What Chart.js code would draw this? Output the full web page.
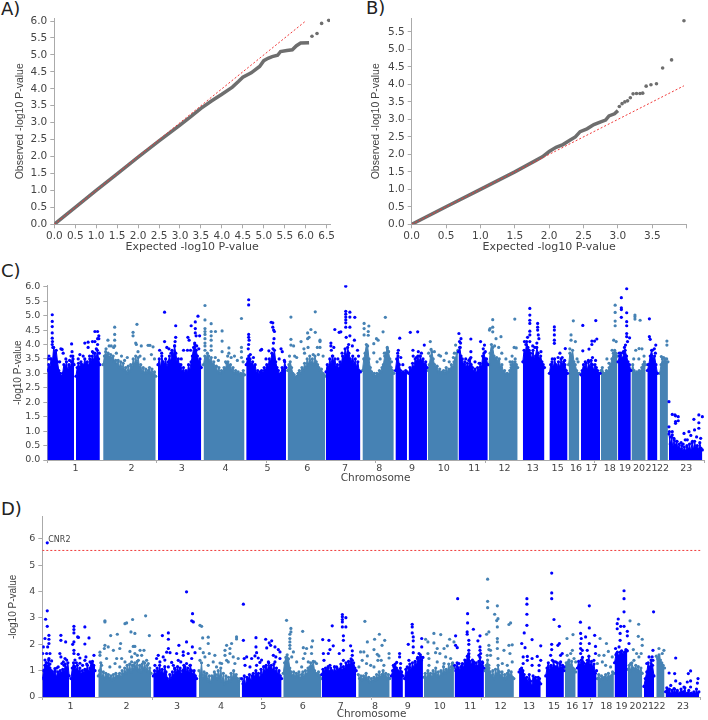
<!DOCTYPE html>
<html>
<head>
<meta charset="utf-8">
<title>QQ and Manhattan plots</title>
<script src="https://cdn.jsdelivr.net/npm/chart.js@4"></script>
<style>
    body { margin: 0; background: #fff; }
    canvas { position: absolute; }
    .letter { position: absolute; font: 18px "DejaVu Sans", sans-serif; color: #222; }
</style>
</head>
<body>
<div class="letter" style="left:1px;top:-2px">A)</div>
<div class="letter" style="left:366px;top:-3px">B)</div>
<div class="letter" style="left:1px;top:260px">C)</div>
<div class="letter" style="left:1px;top:498px">D)</div>
<canvas id="qq-a" width="354" height="260" style="left:0;top:0"></canvas>
<canvas id="qq-b" width="354" height="260" style="left:354px;top:0"></canvas>
<canvas id="man-c" width="708" height="230" style="left:0;top:260px"></canvas>
<canvas id="man-d" width="708" height="230" style="left:0;top:490px"></canvas>
<script>
// QQ plot A: [expected, observed]
const qqCurveA = [[0,0],[0.5,0.5],[1,1],[1.5,1.49],[2,1.98],[2.5,2.46],[3,2.93],[3.25,3.17],[3.5,3.42],[3.75,3.64],[4,3.84],[4.25,4.05],[4.4,4.22],[4.5,4.34],[4.7,4.47],[4.9,4.66],[5,4.83],[5.1,4.9],[5.2,4.95],[5.33,4.99],[5.4,5.1],[5.55,5.13],[5.68,5.15],[5.78,5.27],[5.88,5.35],[6.08,5.36]];
const qqLooseA = [[6.15,5.55],[6.27,5.63],[6.38,5.93],[6.55,6.02]];
const qqNullA = [[0,0],[6,6]];

// QQ plot B: [expected, observed]
const qqCurveB = [[0,0],[0.5,0.5],[1,1],[1.5,1.5],[1.8,1.82],[1.9,1.93],[2,2.08],[2.1,2.2],[2.2,2.28],[2.3,2.4],[2.38,2.5],[2.45,2.65],[2.55,2.73],[2.65,2.85],[2.75,2.93],[2.82,2.98],[2.87,3.1],[2.95,3.16],[3,3.25]];
const qqLooseB = [[3.02,3.37],[3.06,3.45],[3.1,3.5],[3.14,3.53],[3.18,3.62],[3.22,3.73],[3.27,3.74],[3.32,3.74],[3.36,3.75],[3.41,3.95],[3.48,3.99],[3.56,4.02],[3.65,4.47],[3.78,4.7],[3.96,5.82]];
const qqNullB = [[0,0],[3.96,3.96]];

// chromosome labels and their centres along the genome (Mb)
const chromLabels = ['1','2','3','4','5','6','7','8','9','10','11','12','13','15','16','17','18','19','20','21','22','23'];
const chromCentres = [137,408,652,865,1069,1261,1444,1610,1769,1923,2071,2218,2355,2476,2565,2640,2729,2803,2871,2931,2987,3100];

// panel C: top of the packed points per chromosome arm, [start Mb, end Mb, -log10 P read left to right]
const cBlueTops = [
    [0,130,[3.1,3.3,3.2,3.5,3.4,3.9,3.7,3.8,3.4,3.1,3.0,2.9,3.0,3.3,3.2,3.4,3.1,3.3,3.2,3.4,3.6,3.3]],
    [139,255,[2.9,3.2,3.35,3.2,3.4,3.3,3.25,3.5,3.3,3.4,3.25,3.5,3.4,3.6,3.45,3.7,3.5,3.8,3.5,3.3]],
    [537,747,[3.3,3.5,3.2,3.6,3.4,3.3,3.5,3.2,3.4,3.6,3.4,3.8,3.6,3.95,3.7,3.4,3.5,3.2,3.3,3.05,3.2,3.0,3.1,3.0,3.3,3.1,3.4,3.6,3.9,4.0,3.8,3.6,3.4,3.5,3.2]],
    [965,1158,[3.3,3.5,3.6,3.5,3.3,3.4,3.2,3.3,3.0,3.1,2.95,3.05,3.1,3.0,3.2,3.1,3.3,3.2,3.5,3.4,3.7,3.6,3.8,3.4,3.2,3.1,2.95,3.0,3.2,3.1,3.4,3.2]],
    [1352,1519,[3.05,3.3,3.2,3.5,3.3,3.6,3.4,3.5,3.2,3.3,3.15,3.4,3.3,3.6,3.5,3.85,3.6,3.9,3.7,3.5,3.4,3.6,3.3,3.5,3.2,3.4,3.1,3.05]],
    [1689,1745,[3.1,3.5,3.6,3.3,3.1,3.0,3.05,3.0,3.1,3.05]],
    [1753,1842,[3.0,3.2,3.1,3.35,3.2,3.5,3.4,3.6,3.4,3.6,3.4,3.5,3.3,3.4,3.2]],
    [1995,2137,[3.75,3.9,3.6,3.5,3.3,3.4,3.2,3.35,3.2,3.5,3.3,3.2,3.05,3.15,3.0,3.2,3.1,3.35,3.2,3.6,3.7,3.5,3.5,3.3]],
    [2307,2412,[3.4,3.8,3.7,4.1,3.9,3.8,3.7,3.5,3.8,3.5,3.6,3.9,3.7,3.5,3.6,3.4,3.3,3.2]],
    [2436,2524,[3.0,3.3,3.4,3.2,3.5,3.3,3.2,3.4,3.2,3.5,3.3,3.4,3.3,3.1,3.0]],
    [2589,2682,[2.95,3.1,3.3,3.2,3.35,3.1,3.4,3.2,3.45,3.3,3.1,3.3,3.2,3.1,3.0,3.0]],
    [2769,2831,[3.4,3.6,3.7,3.5,3.7,3.8,3.6,3.4,3.3,3.1]],
    [2911,2960,[3.1,3.3,3.6,3.8,3.5,3.6,3.3,3.0]],
    [3016,3178,[0.9,0.55,0.8,0.45,0.7,0.5,0.65,0.4,0.55,0.35,0.5,0.3,0.45,0.3,0.5,0.35,0.55,0.3,0.6,0.35,0.65,0.4,0.5,0.35,0.6,0.4,0.35]]
];
const cSteelTops = [
    [271,526,[3.3,3.6,3.75,3.6,3.7,3.55,3.65,3.5,3.6,3.4,3.45,3.3,3.45,3.2,3.4,3.15,3.35,3.1,3.2,3.0,3.25,3.05,3.3,3.2,3.5,3.3,3.6,3.35,3.55,3.2,3.3,3.05,3.2,3.0,3.15,3.0,3.1,3.2,3.0,3.15,2.95,3.05,2.9]],
    [758,957,[3.3,3.6,3.5,3.7,3.6,3.4,3.55,3.3,3.4,3.2,3.25,3.05,3.2,3.0,3.1,3.05,3.2,3.15,3.35,3.4,3.25,3.3,3.1,3.2,3.0,3.1,3.0,3.05,2.95,3.0,2.95,3.1,2.95]],
    [1166,1349,[3.1,3.3,3.4,3.2,3.0,2.95,2.85,2.9,3.0,3.1,3.0,3.2,3.1,3.35,3.2,3.5,3.3,3.6,3.35,3.5,3.3,3.6,3.4,3.3,3.2,3.1,3.15,3.0,2.95,2.9]],
    [1529,1681,[3.1,3.5,3.7,4.0,3.95,3.5,3.2,3.05,2.95,3.0,2.9,3.0,2.95,3.1,3.05,3.2,3.3,3.6,3.7,3.9,3.75,3.5,3.2,3.1,3.0]],
    [1847,1992,[3.1,3.3,3.6,3.75,3.5,3.3,3.2,3.25,3.05,3.15,3.0,3.05,3.1,3.0,3.2,3.05,3.15,3.1,3.3,3.2,3.4,3.5,3.7,3.8]],
    [2142,2282,[3.3,3.7,4.0,3.9,3.6,3.5,3.55,3.4,3.5,3.2,3.3,3.05,3.1,2.95,3.0,2.95,3.1,3.2,3.4,3.3,3.4,3.3,3.2]],
    [2529,2581,[3.3,3.7,3.6,3.8,3.4,3.3,3.1,3.0,3.0]],
    [2686,2766,[3.1,3.2,3.0,3.0,3.1,3.05,3.2,3.3,3.5,3.7,3.8,3.7,3.6]],
    [2834,2903,[3.1,3.3,3.1,3.0,3.05,3.0,3.1,3.05,3.2,3.3,3.4,3.3]],
    [2971,3011,[3.0,3.3,3.5,3.4,3.5,3.4,3.4]]
];
// panel C: separate hits above the packed points
const cBlueHits = [
    [24,5.03],[24,4.8],[24,4.62],[24,4.4],[24,4.22],[25,4.1],[24,4.0],[27,3.9],[8,3.6],[3,3.5],[15,3.5],[118,4.02],[120,3.75],[115,3.6],[66,3.85],[72,3.83],[77,3.7],[60,3.4],[90,3.5],[108,3.45],[125,3.5],[45,3.4],
    [182,4.05],[198,4.08],[198,3.9],[219,4.1],[219,3.75],[231,4.45],[231,4.1],[244,4.45],[244,4.2],[244,4.0],[250,4.3],[250,4.2],[238,3.85],[158,3.65],[174,3.6],[205,3.6],[225,3.7],[150,3.5],[252,3.7],
    [569,5.12],[569,4.1],[545,3.8],[555,3.7],[580,3.9],[590,3.85],[600,3.7],[623,4.65],[623,4.25],[620,4.1],[618,3.95],[661,3.8],[650,3.5],[640,3.3],[682,4.25],[688,4.15],[698,4.65],[718,4.78],[718,4.55],[718,4.4],[722,4.3],[731,4.98],[739,4.3],[715,4.05],[725,3.95],[695,3.8],[705,3.6],[680,3.8],[735,3.85],
    [977,5.55],[977,5.37],[977,4.35],[977,4.25],[979,4.15],[977,4.0],[975,3.85],[985,3.65],[1000,3.55],[1040,3.83],[1035,3.8],[1061,3.5],[1075,3.78],[1086,4.77],[1094,4.75],[1094,4.6],[1098,4.5],[1102,4.45],[1100,4.2],[1097,4.05],[1095,3.85],[1134,3.85],[1140,3.75],[1125,3.5],[1150,3.45],
    [1395,4.52],[1376,4.05],[1376,3.95],[1378,3.8],[1390,3.9],[1385,3.6],[1416,4.42],[1424,4.44],[1448,6.02],[1448,5.15],[1448,5.05],[1448,4.95],[1448,4.85],[1448,4.75],[1448,4.6],[1450,4.25],[1468,5.12],[1468,4.95],[1468,4.6],[1468,4.3],[1492,4.94],[1490,4.15],[1462,4.0],[1480,3.95],[1510,3.6],[1505,3.8],[1430,3.7],[1410,3.5],
    [1710,4.22],[1703,3.8],[1700,3.7],[1715,3.55],[1725,3.3],[1761,4.42],[1797,4.44],[1829,3.98],[1774,3.8],[1775,3.6],[1800,3.75],[1805,3.6],[1815,3.7],[1790,3.55],
    [1997,4.38],[2007,4.2],[2005,4.05],[2003,3.9],[2000,4.1],[2055,4.19],[2055,3.75],[2055,3.55],[2075,3.4],[2102,4.1],[2121,3.98],[2115,3.85],[2125,3.75],[2095,3.35],[2030,3.5],[2045,3.45],
    [2341,5.25],[2341,5.02],[2341,4.84],[2341,4.73],[2341,4.46],[2341,4.33],[2330,4.25],[2341,4.1],[2379,4.73],[2379,4.6],[2379,4.5],[2382,4.33],[2385,4.2],[2375,4.05],[2315,4.1],[2322,4.0],[2355,3.95],[2365,3.9],[2395,3.75],
    [2460,4.61],[2460,4.5],[2460,4.33],[2460,4.15],[2460,4.04],[2513,3.86],[2487,3.7],[2478,3.55],[2498,3.55],[2510,3.45],[2450,3.5],
    [2598,4.66],[2598,3.78],[2661,4.83],[2642,4.12],[2642,4.0],[2655,4.12],[2666,4.19],[2628,3.84],[2645,3.55],[2625,3.45],[2660,3.45],[2610,3.4],
    [2811,5.93],[2811,5.1],[2811,4.79],[2811,4.65],[2811,4.38],[2811,4.27],[2785,5.62],[2785,5.27],[2785,5.21],[2785,4.94],[2825,4.23],[2805,3.98],[2815,4.1],[2800,3.9],[2775,3.7],[2795,3.75],
    [2921,4.89],[2921,4.27],[2925,4.18],[2952,3.98],[2945,3.85],[2935,3.8],[2950,3.7],[2915,3.3],
    [3016,2.02],[3016,1.15],[3018,0.98],[3032,1.58],[3045,1.56],[3032,0.98],[3032,0.87],[3048,1.53],[3048,1.33],[3048,1.27],[3061,1.5],[3061,1.36],[3025,0.8],[3040,0.75],[3055,0.65],[3075,0.6],[3089,0.92],[3095,0.7],[3113,0.98],[3105,0.7],[3122,0.85],[3137,1.41],[3140,1.04],[3161,1.56],[3161,1.29],[3161,1.1],[3150,0.8],[3170,0.75],[3130,0.65],[3085,0.55],[3178,1.5]
];
const cSteelHits = [
    [294,4.15],[285,3.85],[300,3.95],[310,3.95],[322,3.9],[327,4.6],[327,4.35],[327,4.15],[327,3.95],[335,3.7],[360,3.6],[375,3.45],[388,3.55],[416,4.42],[416,4.3],[435,4.7],[429,4.05],[432,4.0],[440,3.75],[456,3.95],[450,3.6],[470,3.5],[489,3.97],[498,3.97],[513,3.92],[505,3.65],[520,3.5],
    [765,5.35],[765,4.85],[765,4.55],[765,4.45],[765,4.35],[765,4.2],[765,4.05],[765,3.95],[765,3.8],[795,4.72],[795,4.45],[795,4.3],[795,4.15],[795,3.95],[795,3.8],[816,4.45],[848,4.47],[848,4.12],[848,3.75],[815,3.55],[830,3.45],[865,3.4],[881,3.88],[881,3.7],[875,3.6],[892,3.55],[908,3.6],[922,3.45],[942,4.9],[942,3.9],[942,3.75],[942,3.55],[950,3.4],
    [1182,4.95],[1182,4.18],[1182,3.98],[1195,3.95],[1200,3.6],[1175,3.6],[1210,3.55],[1231,4.1],[1245,3.85],[1248,3.7],[1263,4.4],[1270,4.25],[1263,4.2],[1279,4.52],[1265,3.9],[1300,5.13],[1300,4.42],[1290,3.65],[1310,3.9],[1323,4.15],[1323,4.1],[1323,3.9],[1338,3.6],[1315,3.65],
    [1537,4.73],[1560,4.64],[1537,4.55],[1537,4.33],[1557,4.45],[1557,4.32],[1640,4.94],[1629,4.44],[1597,4.2],[1605,4.15],[1584,4.03],[1584,3.71],[1615,3.5],[1650,3.85],[1655,3.75],[1635,3.7],[1670,3.4],[1600,3.4],
    [1858,4.1],[1862,3.83],[1850,3.7],[1878,3.75],[1900,3.63],[1908,3.6],[1936,3.7],[1950,3.4],[1925,3.45],[1970,3.55],[1981,3.98],[1975,3.7],
    [2161,4.86],[2145,4.5],[2148,4.55],[2161,4.6],[2161,4.44],[2177,4.2],[2201,4.27],[2190,3.9],[2170,3.95],[2205,3.7],[2225,3.5],[2268,4.88],[2265,3.9],[2275,3.88],[2245,3.4],[2255,3.6],[2250,3.3],[2270,3.5],
    [2552,4.82],[2541,4.33],[2541,4.15],[2562,4.1],[2570,3.5],[2575,3.4],[2535,3.85],
    [2755,5.36],[2755,5.11],[2755,4.81],[2755,4.65],[2748,4.15],[2760,4.1],[2740,3.8],[2715,3.5],[2725,3.35],
    [2851,5.02],[2851,4.96],[2851,4.88],[2876,4.84],[2871,3.86],[2855,3.8],[2885,3.85],[2845,3.5],[2870,3.5],[2895,3.6],
    [3006,4.12],[3006,3.98],[2979,3.58],[2990,3.55],[3005,3.5]
];

// panel D: top of the packed points, same layout as panel C
const dBlueTops = [
    [0,130,[0.7,1.0,1.2,1.3,1.15,1.4,1.1,1.0,0.95,0.85,1.0,0.75,0.95,0.85,1.0,0.9,1.05,0.95,1.25,1.1,1.3,0.8]],
    [139,255,[0.7,1.1,1.3,1.15,1.0,1.2,0.95,1.1,0.85,1.0,0.9,1.05,1.0,1.2,0.95,1.1,1.3,1.35,1.2,1.0]],
    [537,747,[0.8,1.0,0.85,1.1,0.95,1.2,0.9,1.05,0.85,1.15,0.95,0.7,0.6,0.85,0.65,0.95,0.8,1.05,0.9,1.15,0.95,1.1,0.85,1.0,1.2,1.05,0.95,1.1,0.9,1.2,1.0,0.85,1.0,0.8,0.7]],
    [965,1158,[0.7,0.5,0.8,0.45,0.75,0.65,0.85,0.6,0.8,0.9,0.75,1.0,0.85,0.9,0.7,1.05,0.8,1.15,0.95,1.2,1.0,1.3,1.1,1.2,1.0,1.25,0.95,1.1,0.85,1.0,0.8,0.7]],
    [1352,1519,[0.85,1.05,0.95,1.1,1.0,1.15,0.95,1.1,1.0,0.9,1.15,0.95,1.1,1.0,1.05,1.25,1.0,1.15,1.05,1.3,1.1,1.35,1.2,1.45,1.25,1.3,1.1,1.0]],
    [1689,1745,[0.8,1.0,1.15,1.25,1.1,1.0,0.9,1.1,0.95,0.8]],
    [1753,1842,[0.7,1.05,0.9,1.1,1.25,1.0,1.3,1.1,1.35,1.2,1.5,1.35,1.6,1.4,1.5]],
    [1995,2137,[1.2,1.0,1.3,1.1,1.0,1.15,1.25,1.1,1.4,1.3,1.55,1.6,1.35,1.2,1.4,1.25,1.15,1.3,1.15,1.35,1.5,1.2,1.3,1.1]],
    [2307,2412,[0.95,1.05,1.1,1.0,0.85,0.7,0.75,0.55,0.85,0.6,0.4,0.8,0.7,0.75,0.6,0.75,0.7,0.5]],
    [2436,2524,[0.8,1.1,1.3,1.0,1.2,1.05,1.35,1.15,1.1,1.3,1.05,1.25,1.1,1.2,1.0]],
    [2589,2682,[1.1,1.35,1.2,1.4,1.5,1.3,1.15,1.25,1.3,1.55,1.2,1.35,1.1,1.25,0.9,1.0]],
    [2769,2831,[1.3,1.6,1.7,1.55,1.7,1.75,1.6,1.7,1.8,1.75]],
    [2911,2960,[0.4,0.7,0.95,1.3,1.1,1.4,1.2,0.8]],
    [3016,3178,[0.2,0.35,0.15,0.3,0.1,0.25,0.15,0.3,0.12,0.2,0.1,0.15,0.3,0.1,0.2,0.35,0.1,0.15,0.25,0.08,0.15,0.1,0.2,0.08,0.3,0.12,0.2]]
];
const dSteelTops = [
    [271,526,[0.8,1.0,1.3,0.75,0.95,0.7,0.9,0.75,0.85,0.7,0.8,0.65,0.85,0.7,0.9,0.75,0.8,0.9,0.75,1.0,0.85,1.1,0.9,1.2,1.0,1.25,0.95,1.2,1.05,1.3,1.1,1.35,1.0,1.2,0.95,1.25,1.05,1.3,1.0,1.2,0.95,1.1,0.9]],
    [758,957,[1.0,0.8,1.3,0.7,0.95,0.8,0.9,0.6,0.8,0.55,0.8,0.7,0.95,0.85,0.7,1.0,0.75,1.1,0.6,0.9,0.5,0.8,0.55,0.75,0.6,0.9,0.7,1.0,0.75,0.85,0.7,0.6,0.7]],
    [1166,1349,[0.9,1.3,1.5,1.6,1.45,1.1,0.95,0.8,0.95,0.75,0.9,0.8,0.95,0.7,0.85,0.95,0.75,1.0,0.85,1.1,1.0,1.3,1.15,1.35,1.0,0.9,0.85,0.95,0.8,0.7]],
    [1529,1681,[0.85,0.7,0.8,0.65,0.8,0.7,0.9,0.65,0.75,0.55,0.7,0.6,0.75,0.65,0.85,0.7,0.95,0.75,0.85,1.0,0.8,0.9,0.7,0.85,0.7]],
    [1847,1992,[0.75,0.9,0.7,1.0,0.8,0.9,0.75,1.0,0.85,1.1,0.8,0.95,0.75,1.0,0.85,1.15,0.9,1.05,0.95,1.25,1.0,1.15,1.3,1.1]],
    [2142,2282,[1.0,1.2,1.4,1.1,0.95,0.8,1.0,0.7,1.05,0.85,1.2,0.95,0.8,0.95,0.7,0.85,0.7,0.9,1.0,0.8,0.95,0.75,0.7]],
    [2529,2581,[1.1,1.3,1.25,1.4,1.2,1.35,1.1,1.05,0.95]],
    [2686,2766,[0.7,0.85,0.65,0.8,0.7,0.75,0.85,0.7,0.9,0.75,0.8,0.95,0.9]],
    [2834,2903,[1.05,1.2,1.0,1.3,1.1,1.05,1.2,1.0,1.15,0.95,1.1,0.9]],
    [2971,3011,[1.55,1.45,1.6,1.4,1.3,1.2,1.1]]
];
// panel D: separate hits above the packed points
const dBlueHits = [
    [24,5.85],[24,3.27],[16,2.95],[24,2.68],[32,2.34],[32,2.19],[13,2.22],[32,2.03],[26,1.9],[5,1.9],[2,1.65],[21,1.65],[37,1.65],[32,1.46],[13,1.4],[45,1.37],[21,1.3],[37,1.25],[90,2.34],[90,2.15],[113,2.09],[85,1.65],[90,1.52],[110,1.46],[118,1.4],[102,1.33],[95,1.27],[77,1.14],[61,1.08],[70,1.1],[105,1.2],
    [153,2.68],[153,2.56],[153,2.43],[171,2.28],[175,2.26],[153,2.09],[147,2.0],[206,2.66],[226,2.24],[206,2.01],[153,1.77],[153,1.65],[174,1.62],[182,1.48],[211,1.52],[206,1.39],[250,1.58],[158,1.4],[182,1.28],[231,1.33],[240,1.2],[248,1.15],[195,1.2],[165,1.3],[215,1.25],
    [581,2.33],[610,2.43],[610,2.19],[698,3.99],[727,3.16],[723,2.89],[731,2.85],[661,1.96],[698,2.09],[726,1.9],[610,1.84],[602,1.7],[618,1.68],[561,1.58],[585,1.52],[553,1.46],[593,1.4],[626,1.31],[650,1.65],[682,1.71],[706,1.65],[682,1.58],[739,1.68],[723,1.46],[569,1.33],[658,1.39],[634,1.2],[670,1.33],[698,1.27],[715,1.2],[610,1.14],[545,1.2],[690,1.15],[640,1.1],
    [973,3.52],[973,2.15],[1034,2.25],[1081,2.19],[1110,2.13],[1098,2.05],[1034,1.9],[1105,1.96],[1126,1.9],[1086,1.86],[1142,1.8],[1150,1.71],[1037,1.68],[1029,1.56],[1045,1.48],[989,1.52],[977,1.46],[1013,1.46],[1061,1.4],[1118,1.58],[1130,1.52],[1150,1.46],[1053,1.31],[1094,1.33],[1126,1.33],[981,1.2],[1005,1.14],[1037,1.2],[1078,1.14],
    [1357,2.18],[1387,2.15],[1403,2.7],[1452,3.13],[1452,3.04],[1452,2.94],[1469,3.01],[1452,2.85],[1452,2.66],[1469,2.66],[1457,2.32],[1457,2.15],[1408,1.94],[1392,1.8],[1384,1.65],[1360,1.65],[1363,1.39],[1437,1.65],[1457,1.77],[1492,1.94],[1500,1.75],[1500,1.58],[1457,1.39],[1500,1.39],[1392,1.2],[1424,1.14],[1473,1.2],
    [1729,1.65],[1729,1.52],[1715,1.31],[1699,1.2],[1734,1.27],[1790,2.76],[1790,2.66],[1790,2.43],[1795,2.28],[1795,2.13],[1771,2.0],[1795,1.9],[1836,2.22],[1836,1.9],[1795,1.68],[1823,1.65],[1774,1.39],[1831,1.52],[1815,1.46],[1766,1.14],
    [2010,3.73],[2058,3.16],[2058,2.81],[2086,2.57],[2056,2.47],[2056,2.38],[2118,2.32],[2108,2.13],[2064,2.15],[2064,2.0],[2000,2.32],[2000,1.96],[2008,1.87],[2118,1.9],[2118,1.77],[2121,1.65],[2113,1.58],[2064,1.77],[2064,1.65],[2064,1.52],[2033,1.27],[2016,1.27],[2088,1.33],[2129,1.33],
    [2345,3.73],[2345,3.52],[2345,3.14],[2345,2.72],[2332,2.43],[2370,2.18],[2320,2.03],[2336,1.87],[2412,1.94],[2327,1.52],[2347,1.54],[2370,1.46],[2395,1.54],[2327,1.27],[2347,1.39],[2412,1.39],[2404,1.2],[2370,1.2],[2404,1.0],
    [2465,4.7],[2465,3.95],[2465,3.73],[2476,2.94],[2502,2.68],[2465,2.0],[2465,1.8],[2502,2.03],[2495,1.96],[2508,1.58],[2516,1.65],[2460,1.58],[2484,1.33],[2468,1.39],[2508,1.33],[2460,1.14],[2524,1.14],
    [2604,2.84],[2647,3.46],[2647,2.62],[2605,2.41],[2608,2.22],[2605,2.03],[2605,1.84],[2613,1.77],[2629,2.28],[2673,2.34],[2647,2.03],[2677,1.92],[2637,1.77],[2677,1.65],[2605,1.65],[2637,1.39],[2669,1.39],[2661,1.14],
    [2787,2.96],[2782,2.78],[2815,4.03],[2815,3.73],[2815,3.23],[2799,2.68],[2815,2.68],[2831,2.49],[2831,2.32],[2796,2.41],[2796,2.15],[2791,1.9],[2839,2.03],[2827,1.77],[2774,1.84],[2782,2.59],[2779,1.65],
    [2958,3.23],[2955,1.77],[2951,1.52],[2936,1.52],[2925,1.27],[2955,1.39],[2944,1.14],[2936,1.0],
    [3065,1.48],[3033,0.91],[3060,0.89],[3137,0.99],[3126,0.89],[3173,0.7],[3170,0.53],[3065,0.61],[3086,0.51],[3041,0.44],[3025,0.25],[3057,0.32],[3073,0.25],[3097,0.19],[3105,0.38],[3121,0.57],[3137,0.61],[3137,0.38],[3153,0.13],[3170,0.13],[3033,0.13],[3049,0.1],[3081,0.1],[3121,0.1]
];
const dSteelHits = [
    [303,2.89],[303,2.85],[331,2.33],[363,2.38],[400,2.78],[408,2.81],[437,2.94],[429,2.47],[448,2.41],[500,3.08],[518,2.33],[379,2.03],[303,1.96],[279,1.7],[300,1.84],[319,1.9],[344,1.77],[375,1.84],[440,1.92],[448,1.92],[424,1.73],[448,1.65],[432,1.52],[473,1.77],[492,1.77],[460,1.58],[481,1.58],[505,1.39],[279,1.58],[311,1.46],[360,1.46],[384,1.46],[352,1.27],[400,1.33],[432,1.33],[465,1.39],[489,1.33],[513,1.27],[287,1.2],[327,1.14],[375,1.14],[440,1.2],[481,1.14],
    [771,2.68],[763,2.72],[776,2.24],[803,2.27],[803,2.03],[808,1.65],[763,1.84],[779,1.68],[835,1.58],[763,1.39],[787,1.52],[827,1.33],[860,1.29],[884,1.77],[892,1.96],[916,2.03],[940,2.28],[940,2.2],[908,1.84],[884,1.58],[908,1.65],[924,1.52],[948,1.46],[892,1.39],[843,1.14],[803,1.2],[868,1.27],[900,1.33],[932,1.27],
    [1182,2.91],[1260,2.49],[1203,2.6],[1203,2.47],[1198,2.38],[1198,2.22],[1198,2.09],[1198,1.96],[1198,1.84],[1215,1.71],[1207,1.52],[1182,1.39],[1308,2.13],[1263,1.87],[1279,1.84],[1303,1.9],[1303,1.65],[1271,1.65],[1263,1.46],[1287,1.33],[1319,1.33],[1231,1.33],[1327,1.27],[1182,1.2],[1255,1.14],[1295,1.14],
    [1561,2.87],[1573,2.09],[1608,2.19],[1631,2.38],[1644,1.96],[1657,2.15],[1605,1.8],[1621,1.62],[1629,1.56],[1678,1.65],[1678,1.48],[1540,1.71],[1556,1.71],[1573,1.56],[1548,1.39],[1569,1.27],[1624,1.39],[1640,1.39],[1589,1.2],[1605,1.14],[1653,1.2],[1532,1.14],
    [1855,2.19],[1866,2.09],[1895,2.41],[1928,2.37],[1971,2.19],[1895,2.05],[1911,1.84],[1903,1.68],[1944,1.84],[1960,1.94],[1992,2.09],[1866,1.65],[1871,1.46],[1924,1.65],[1952,1.52],[1976,1.46],[1911,1.33],[1871,1.2],[1944,1.27],[1984,1.27],
    [2155,4.47],[2155,3.63],[2155,3.39],[2202,3.46],[2189,3.14],[2205,2.97],[2199,2.9],[2202,2.66],[2266,2.81],[2258,2.75],[2161,2.47],[2150,2.38],[2202,2.22],[2202,2.09],[2161,1.96],[2161,1.8],[2169,1.77],[2153,1.58],[2169,1.58],[2202,1.84],[2258,1.96],[2274,1.98],[2234,1.77],[2263,1.65],[2205,1.46],[2226,1.27],[2161,1.2],[2250,1.2],[2274,1.33],
    [2539,2.22],[2568,2.37],[2565,1.77],[2557,1.65],[2540,1.58],[2573,1.46],[2545,1.33],[2581,1.33],
    [2699,2.22],[2730,2.03],[2739,1.73],[2694,1.58],[2718,1.58],[2758,1.52],[2710,1.33],[2686,1.27],[2750,1.14],[2726,1.2],
    [2844,2.89],[2886,2.76],[2884,2.3],[2903,2.19],[2860,1.8],[2876,1.65],[2903,1.96],[2898,1.65],[2863,1.39],[2887,1.52],[2847,1.27],
    [2984,1.84],[3008,1.77],[3000,1.65],[2984,1.52]
];

const blue = '#0000ff';
const steel = '#4682b4';
const grey = '#6e6e6e';
const red = '#f03a3a';
const axisGrey = '#aaaaaa';
const textGrey = '#444444';
const genomeEnd = 3186;
const narrowFont = '"Liberation Sans", sans-serif';

Chart.defaults.font.family = '"DejaVu Sans", sans-serif';
Chart.defaults.color = textGrey;
Chart.defaults.animation = false;
Chart.defaults.responsive = false;
Chart.defaults.plugins.legend.display = false;
Chart.defaults.plugins.tooltip.enabled = false;

function toPoints(rows) {
    return rows.map(r => ({ x: r[0], y: r[1] }));
}

function nullLine(rows, width) {
    return { data: toPoints(rows), showLine: true, borderColor: red, borderWidth: width, borderDash: [2, 2], pointRadius: 0 };
}

function createQQ(id, curve, loose, line, opts) {
    new Chart(document.getElementById(id), {
        type: 'scatter',
        data: {
            datasets: [
                nullLine(line, 1),
                { data: toPoints(curve), showLine: true, borderColor: grey, borderWidth: 3.5, pointRadius: 0 },
                { data: toPoints(loose), backgroundColor: grey, pointRadius: 1.8, borderWidth: 0 }
            ]
        },
        options: {
            layout: { padding: { top: opts.top, right: opts.right } },
            scales: {
                x: {
                    min: 0, max: opts.xMax,
                    border: { color: axisGrey },
                    grid: { drawOnChartArea: false, color: axisGrey, tickLength: 4 },
                    ticks: {
                        stepSize: 0.5, includeBounds: false, maxRotation: 0, autoSkip: false, padding: 2,
                        font: { size: 10.5 },
                        callback: v => v > opts.xLast ? '' : v.toFixed(1)
                    },
                    title: { display: true, text: 'Expected -log10 P-value', font: { size: 11 }, padding: { top: 2, bottom: 6 } },
                    afterFit: s => { s.height = 35.7; }
                },
                y: {
                    min: 0, max: opts.yMax,
                    border: { color: axisGrey },
                    grid: { drawOnChartArea: false, color: axisGrey, tickLength: 4 },
                    ticks: {
                        stepSize: 0.5, includeBounds: false, padding: 3,
                        font: { size: 10.5 },
                        callback: v => v.toFixed(1)
                    },
                    title: {
                        display: true, text: 'Observed -log10 P-value', color: textGrey,
                        font: { family: narrowFont, size: 10.5 },
                        padding: { top: opts.titleGap, bottom: 0 }
                    },
                    afterFit: s => { s.width = opts.left; }
                }
            }
        }
    });
}

// spread the tops read for one arm across its span
function armPoints(arm) {
    const tops = arm[2];
    return tops.map((y, i) => ({ x: arm[0] + (arm[1] - arm[0]) * i / (tops.length - 1), y: y }));
}

function armSets(arms, colour, dot) {
    return arms.map(arm => ({
        data: armPoints(arm), showLine: true, fill: 'origin',
        borderColor: colour, backgroundColor: colour, borderWidth: 1,
        pointRadius: dot, pointBackgroundColor: colour, pointBorderWidth: 0
    }));
}

function createManhattan(id, tops, hits, opts) {
    const sets = [];
    if (opts.threshold) {
        sets.push(nullLine([[0, opts.threshold], [genomeEnd, opts.threshold]], 1));
    }
    sets.push({ data: toPoints(hits.blue), backgroundColor: blue, pointRadius: opts.dot, borderWidth: 0 });
    sets.push({ data: toPoints(hits.steel), backgroundColor: steel, pointRadius: opts.dot, borderWidth: 0 });
    sets.push(...armSets(tops.blue, blue, opts.dot), ...armSets(tops.steel, steel, opts.dot));

    // gene name next to the top hit
    const geneLabel = {
        id: 'geneLabel',
        afterDatasetsDraw(chart) {
            if (!opts.gene) return;
            const ctx = chart.ctx;
            ctx.save();
            ctx.font = '8px "DejaVu Sans", sans-serif';
            ctx.fillStyle = textGrey;
            ctx.fillText(opts.gene[2], chart.scales.x.getPixelForValue(opts.gene[0]) + 1, chart.scales.y.getPixelForValue(opts.gene[1]) - 1);
            ctx.restore();
        }
    };

    new Chart(document.getElementById(id), {
        type: 'scatter',
        data: { datasets: sets },
        plugins: [geneLabel],
        options: {
            layout: { padding: { top: opts.top, right: opts.right } },
            scales: {
                xMarks: {
                    axis: 'x', type: 'linear', position: 'bottom', weight: 0,
                    min: 0, max: genomeEnd,
                    border: { color: axisGrey },
                    grid: { drawOnChartArea: false, color: axisGrey, tickLength: 3 },
                    ticks: { stepSize: 500, callback: () => '', padding: 0 },
                    afterFit: s => { s.height = 3; }
                },
                x: {
                    type: 'linear', position: 'bottom', weight: 1,
                    min: 0, max: genomeEnd,
                    border: { display: false },
                    grid: { display: false, drawTicks: false },
                    afterBuildTicks: s => { s.ticks = chromCentres.map(v => ({ value: v })); },
                    ticks: {
                        autoSkip: false, maxRotation: 0, padding: opts.labelGap,
                        font: { size: 9.5 },
                        callback: v => chromLabels[chromCentres.indexOf(v)]
                    },
                    title: { display: true, text: 'Chromosome', font: { size: 10.5 }, padding: { top: 0, bottom: opts.titleDrop } },
                    afterFit: s => { s.height = opts.xHeight; }
                },
                y: {
                    min: 0, max: opts.yMax,
                    border: { color: axisGrey },
                    grid: { drawOnChartArea: false, color: axisGrey, tickLength: 4 },
                    ticks: {
                        stepSize: opts.yStep, includeBounds: false, padding: 3,
                        font: { size: 9.5 },
                        callback: v => opts.yStep < 1 ? v.toFixed(1) : String(v)
                    },
                    title: {
                        display: true, text: '-log10 P-value', color: textGrey,
                        font: { family: narrowFont, size: 10 },
                        padding: { top: opts.titleGap, bottom: 0 }
                    },
                    afterFit: s => { s.width = opts.left; }
                }
            }
        }
    });
}

createQQ('qq-a', qqCurveA, qqLooseA, qqNullA, { left: 54.3, top: 18.3, right: 24, xMax: 6.58, yMax: 6.08, xLast: 6.5, titleGap: 14 });
createQQ('qq-b', qqCurveB, qqLooseB, qqNullB, { left: 57.7, top: 18.3, right: 21.3, xMax: 4.0, yMax: 5.89, xLast: 3.5, titleGap: 16 });
createManhattan('man-c', { blue: cBlueTops, steel: cSteelTops }, { blue: cBlueHits, steel: cSteelHits },
    { left: 47.3, top: 25.3, right: 2.3, xHeight: 27, yMax: 6.05, yStep: 0.5, dot: 1.6, labelGap: 0, titleGap: 12, titleDrop: 5 });
createManhattan('man-d', { blue: dBlueTops, steel: dSteelTops }, { blue: dBlueHits, steel: dSteelHits },
    { left: 42.3, top: 26.7, right: 7.3, xHeight: 20, yMax: 6.84, yStep: 1, dot: 1.6, labelGap: 1, titleGap: 7, titleDrop: -1, threshold: 5.56, gene: [24, 5.85, 'CNR2'] });
</script>
</body>
</html>
